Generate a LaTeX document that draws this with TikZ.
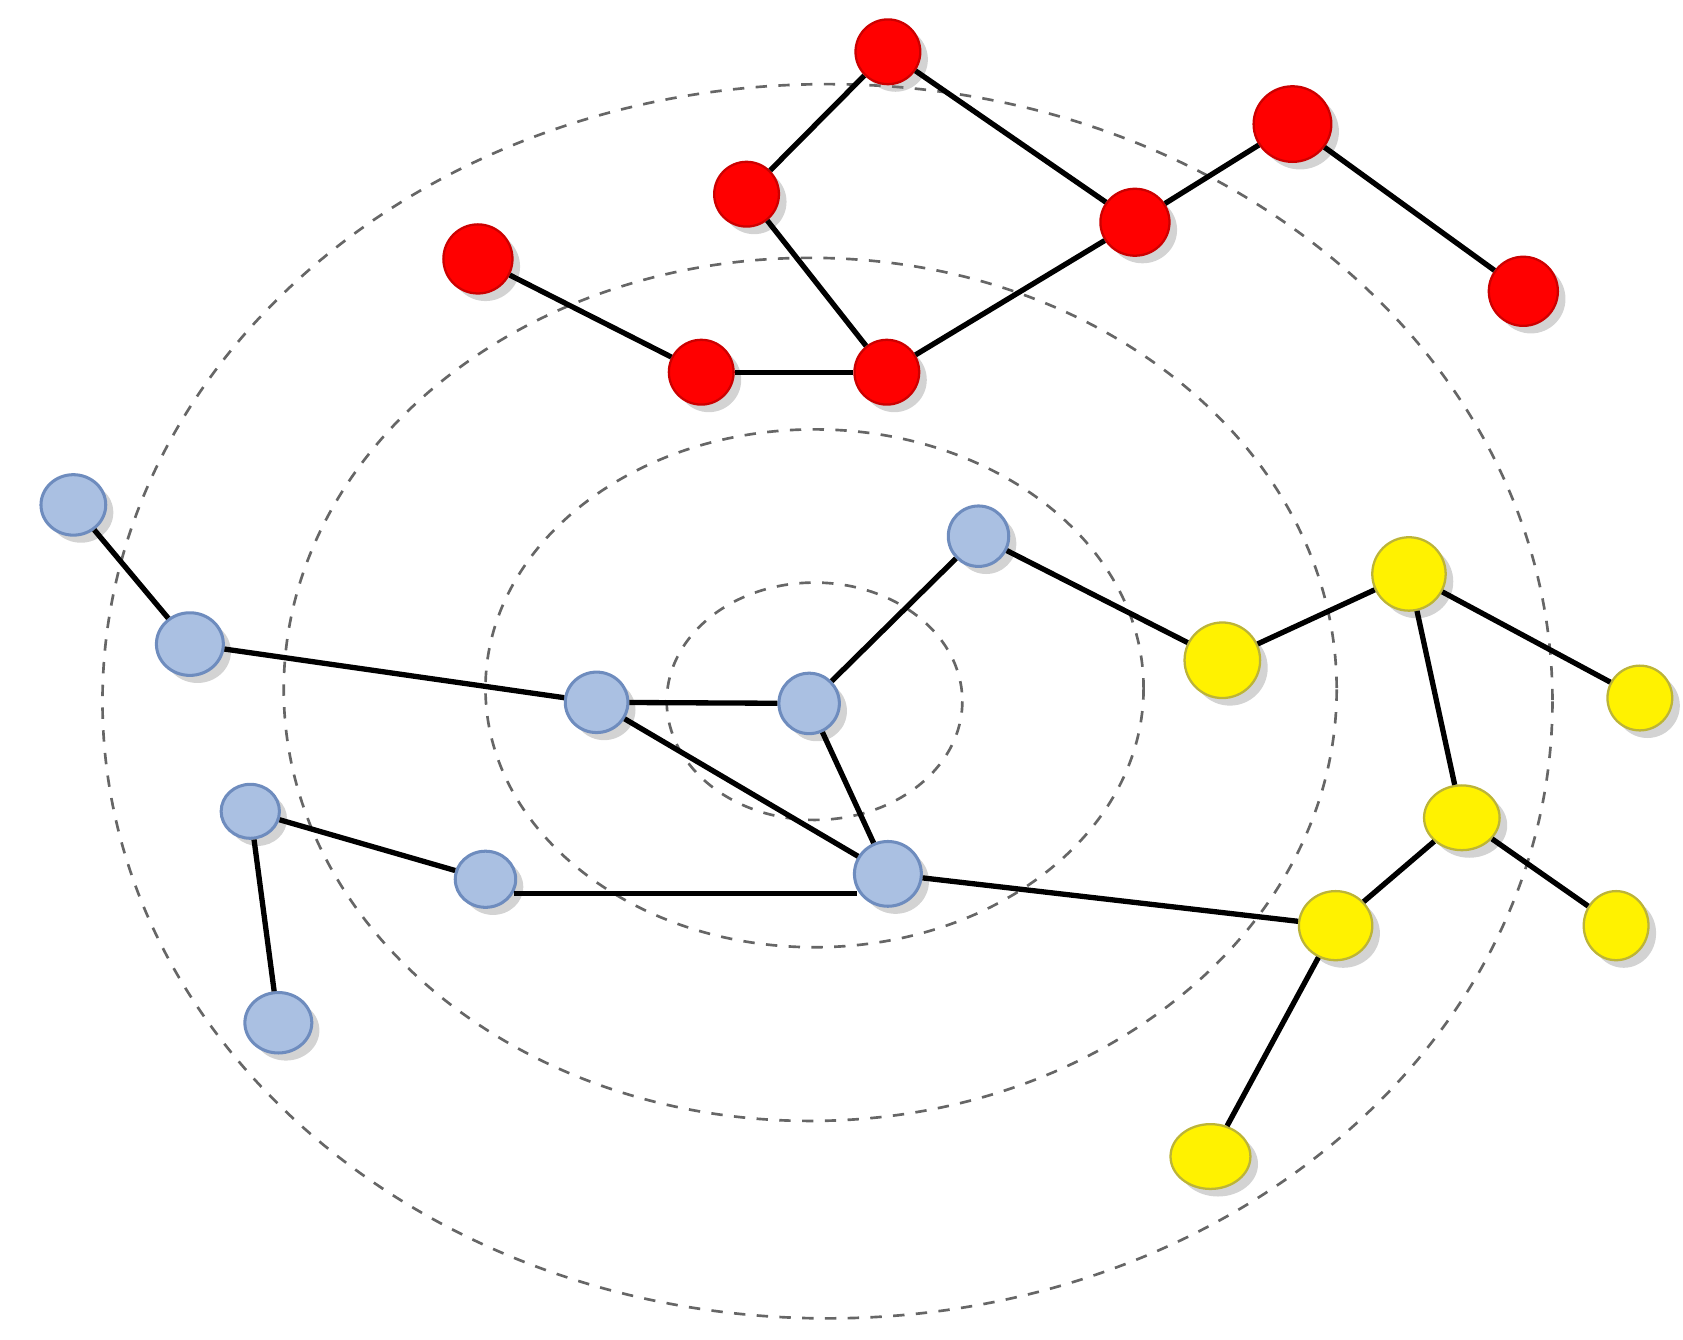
\documentclass[tikz,border=0pt]{standalone}
\usetikzlibrary{shadows,shapes.geometric}
\begin{document}
\begin{tikzpicture}[x=0.01cm,y=-0.01cm,
 nd/.style={ellipse,inner sep=0pt,drop shadow={shadow xshift=2pt,shadow yshift=-2pt,opacity=0.35,fill=gray}},
 rd/.style={nd,fill=red,draw=red!80!black,line width=0.6pt},
 bl/.style={nd,fill={rgb,255:red,170;green,192;blue,226},draw={rgb,255:red,110;green,140;blue,190},line width=0.8pt},
 yl/.style={nd,fill=yellow,draw=yellow!70!black,line width=0.6pt},
 ed/.style={line width=1.4pt,black},
 ring/.style={dashed,gray!80!black,line width=0.7pt}]
\useasboundingbox (0,0) rectangle (1560,1242);
\draw[ring] (755,650) ellipse [x radius=137,y radius=110];
\draw[ring] (755,638) ellipse [x radius=305,y radius=240];
\draw[ring] (751,639) ellipse [x radius=488,y radius=400];
\draw[ring] (767,650) ellipse [x radius=672,y radius=572];
\def\N#1#2#3#4#5#6{\node[#2,minimum width=#5*0.02cm,minimum height=#6*0.02cm] (#1) at (#3,#4) {};}
\N{r1}{rd}{823}{48}{30}{30}
\N{r2}{rd}{692}{180}{30}{30}
\N{r3}{rd}{443}{240}{32}{32}
\N{r4}{rd}{650}{345}{30}{30}
\N{r5}{rd}{822}{345}{30}{30}
\N{r6}{rd}{1052}{206}{32}{31}
\N{r7}{rd}{1198}{115}{36}{35}
\N{r8}{rd}{1412}{270}{32}{32}
\N{b1}{bl}{68}{468}{30}{28}
\N{b2}{bl}{176}{597}{31}{29}
\N{b3}{bl}{553}{651}{29}{28}
\N{b4}{bl}{750}{652}{28}{28}
\N{b5}{bl}{907}{497}{28}{28}
\N{b6}{bl}{823}{810}{31}{30}
\N{b7}{bl}{232}{752}{27}{25}
\N{b8}{bl}{450}{815}{28}{26}
\N{b9}{bl}{258}{948}{31}{28}
\N{y1}{yl}{1133}{612}{35}{35}
\N{y2}{yl}{1306}{532}{34}{34}
\N{y3}{yl}{1520}{647}{30}{30}
\N{y4}{yl}{1355}{758}{35}{30}
\N{y5}{yl}{1238}{858}{34}{32}
\N{y6}{yl}{1498}{858}{30}{32}
\N{y7}{yl}{1122}{1072}{37}{30}
\foreach \a/\b in {r1/r2,r1/r6,r2/r5,r3/r4,r4/r5,r5/r6,r6/r7,r7/r8,
 b1/b2,b2/b3,b3/b4,b4/b5,b4/b6,b3/b6,b7/b8,b7/b9,b6/y5,
 b5/y1,y1/y2,y2/y3,y2/y4,y4/y5,y4/y6,y5/y7}
 \draw[ed] (\a) -- (\b);
\coordinate (h1) at (476,828);
\coordinate (h2) at (794,828);
\draw[ed] (h1) -- (h2);
\end{tikzpicture}
\end{document}
